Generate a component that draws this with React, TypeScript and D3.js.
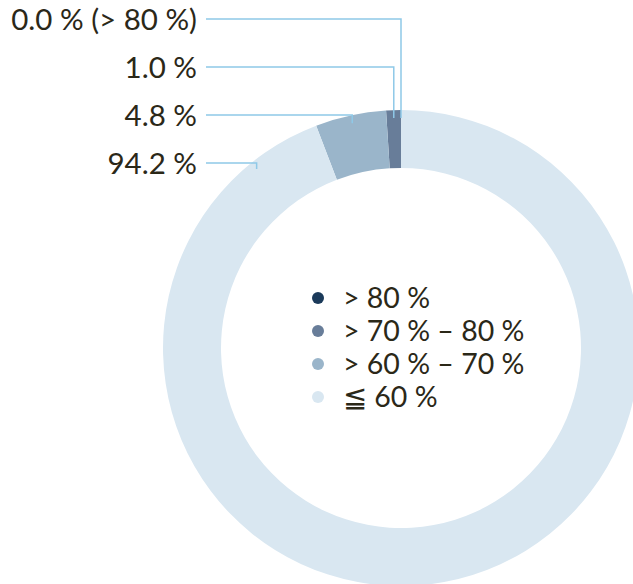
import React, { useRef, useEffect } from 'react';
import * as d3 from 'd3';

// shares of the ring, in order from 12 o'clock, counterclockwise
const categories = ['> 80 %', '> 70 % – 80 %', '> 60 % – 70 %', '≦ 60 %'];
const shares = [0.0, 1.0, 4.8, 94.2];
const sliceLabels = ['0.0 % (> 80 %)', '1.0 %', '4.8 %', '94.2 %'];
const colors = ['#1b3a5a', '#687d99', '#9ab5ca', '#d9e7f1'];

const App = () => {
  const ref = useRef<SVGSVGElement>(null);

  useEffect(() => {
    const width = 633;
    const height = 584;
    const cx = 401;
    const cy = 348;
    const outer = 238;
    const inner = 180;
    const font = 'Lato, "Open Sans", sans-serif';
    const textColor = '#2b2818';
    const leaderColor = '#8fc9e8';

    const svg = d3.select(ref.current);
    svg.selectAll('*').remove();
    svg.attr('width', width).attr('height', height);

    const data = shares.map((v, i) => ({ v, i }));
    const pie = d3.pie<{ v: number; i: number }>()
      .value((d) => d.v)
      .sort(null)
      .startAngle(0)
      .endAngle(-2 * Math.PI);
    const arcs = pie(data);

    const arc = d3.arc<d3.PieArcDatum<{ v: number; i: number }>>()
      .innerRadius(inner)
      .outerRadius(outer);

    const g = svg.append('g').attr('transform', `translate(${cx},${cy})`);

    g.selectAll('path')
      .data(arcs)
      .enter()
      .append('path')
      .attr('d', arc)
      .attr('fill', (d) => colors[d.data.i]);

    // leader lines + labels on the left
    const labelY = d3.scalePoint<number>()
      .domain(d3.range(shares.length))
      .range([19, 163]);
    const labelRight = 197;
    const lineStart = 206;
    const anchorR = outer - 8;

    arcs.forEach((a) => {
      const span = Math.abs(a.endAngle - a.startAngle);
      const ang = span > 0.5
        ? a.startAngle - 0.05 * 2 * Math.PI
        : (a.startAngle + a.endAngle) / 2;
      const ax = cx + anchorR * Math.sin(ang);
      const ay = cy - anchorR * Math.cos(ang);
      const ly = labelY(a.data.i) as number;

      svg.append('path')
        .attr('d', `M${lineStart},${ly}H${ax}V${ay}`)
        .attr('fill', 'none')
        .attr('stroke', leaderColor)
        .attr('stroke-width', 1.5);

      svg.append('text')
        .attr('x', labelRight)
        .attr('y', ly)
        .attr('dy', '0.36em')
        .attr('text-anchor', 'end')
        .attr('font-family', font)
        .attr('font-size', 29.5)
        .attr('fill', textColor)
        .text(sliceLabels[a.data.i]);
    });

    // legend in the middle
    const legendY = d3.scalePoint<number>()
      .domain(d3.range(categories.length))
      .range([298, 397]);
    const legend = svg.append('g');
    categories.forEach((c, i) => {
      const y = legendY(i) as number;
      legend.append('circle')
        .attr('cx', 318)
        .attr('cy', y)
        .attr('r', 6)
        .attr('fill', colors[i]);
      legend.append('text')
        .attr('x', 343)
        .attr('y', y)
        .attr('dy', '0.36em')
        .attr('font-family', font)
        .attr('font-size', 28.5)
        .attr('fill', textColor)
        .text(c);
    });
  }, []);

  return (
    <svg ref={ref} style={{ position: 'absolute', left: 0, top: 0 }} />
  );
};

export default App;
